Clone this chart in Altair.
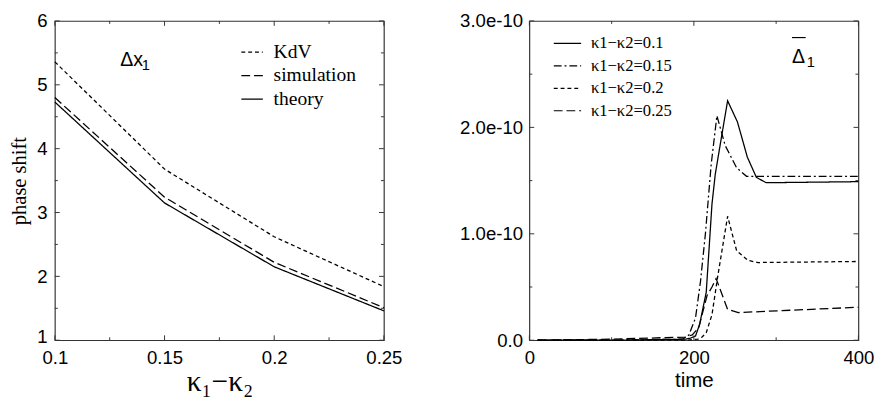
import altair as alt
import pandas as pd

# ---------------- data: left panel ----------------
kappa = [0.1, 0.15, 0.2, 0.25]
kdv = [5.36, 3.68, 2.62, 1.84]
simulation = [4.80, 3.24, 2.22, 1.51]
theory = [4.73, 3.15, 2.15, 1.46]
left_names = ["KdV", "simulation", "theory"]

left_x_major = [0.1, 0.15, 0.2, 0.25]
left_x_minor = [0.125, 0.175, 0.225]
left_y_major = [1, 2, 3, 4, 5, 6]
left_y_minor = [1.5, 2.5, 3.5, 4.5, 5.5]

# ---------------- data: right panel (values in units of 1e-10) ----------------
t_01 = [10, 100, 190, 196, 202, 207, 215, 222, 226, 234, 241, 253, 265, 276, 288, 400]
v_01 = [0, 0, 0.01, 0.02, 0.04, 0.15, 0.45, 1.28, 1.56, 1.93, 2.25, 2.05, 1.72, 1.53, 1.48, 1.49]
t_015 = [10, 100, 186, 194, 202, 208, 214, 221, 228, 238, 252, 264, 400]
v_015 = [0, 0, 0.01, 0.05, 0.21, 0.55, 1.0, 1.65, 2.11, 1.83, 1.62, 1.54, 1.54]
t_02 = [10, 100, 190, 205, 210, 215, 222, 229, 241, 252, 266, 278, 400]
v_02 = [0, 0, 0.0, 0.01, 0.03, 0.07, 0.24, 0.6, 1.165, 0.84, 0.75, 0.73, 0.74]
t_025 = [10, 100, 190, 198, 206, 216, 222, 227, 241, 254, 400]
v_025 = [0, 0.01, 0.03, 0.05, 0.12, 0.42, 0.5, 0.58, 0.29, 0.26, 0.31]
right_names = ["κ1−κ2=0.1", "κ1−κ2=0.15", "κ1−κ2=0.2", "κ1−κ2=0.25"]

right_x_major = [0, 200, 400]
right_x_minor = [100, 300]
right_y_major = [0, 1, 2, 3]
right_y_minor = [0.5, 1.5, 2.5]

W, H = 337, 327
SANS = "Liberation Sans"
SERIF = "Liberation Serif"
FRAME = "#333333"

left_df = pd.DataFrame(
    [{"x": k, "y": v, "s": left_names[0]} for k, v in zip(kappa, kdv)]
    + [{"x": k, "y": v, "s": left_names[1]} for k, v in zip(kappa, simulation)]
    + [{"x": k, "y": v, "s": left_names[2]} for k, v in zip(kappa, theory)]
)
right_rows = []
for name, ts, vs in zip(right_names, [t_01, t_015, t_02, t_025], [v_01, v_015, v_02, v_025]):
    for t, v in zip(ts, vs):
        right_rows.append({"x": t, "y": v, "s": name})
right_df = pd.DataFrame(right_rows)


def tick_layers(xenc, yenc, xmaj, xmin, ymaj, ymin):
    layers = []
    for vals, ln in [(xmaj, 5), (xmin, 3)]:
        d = pd.DataFrame({"x": vals})
        for y0, y1 in [(H, H - ln), (0, ln)]:
            layers.append(
                alt.Chart(d).mark_rule(color=FRAME, strokeWidth=1).encode(
                    x=xenc, y=alt.value(y0), y2=alt.value(y1)))
    for vals, ln in [(ymaj, 5), (ymin, 3)]:
        d = pd.DataFrame({"y": vals})
        for x0, x1 in [(0, ln), (W, W - ln)]:
            layers.append(
                alt.Chart(d).mark_rule(color=FRAME, strokeWidth=1).encode(
                    y=yenc, x=alt.value(x0), x2=alt.value(x1)))
    return layers


def txt(s, x, y, size, font=SANS):
    return alt.Chart(pd.DataFrame({"a": [0]})).mark_text(
        text=s, font=font, fontSize=size, align="left", baseline="alphabetic", color="black"
    ).encode(x=alt.value(x), y=alt.value(y))


# ---------------- left panel ----------------
lx = alt.X("x:Q", scale=alt.Scale(domain=[0.1, 0.25], nice=False, zero=False),
           axis=alt.Axis(values=left_x_major, format="~g", title="κ₁−κ₂",
                         titleFont=SERIF, titleFontSize=30, titleFontWeight="normal",
                         titlePadding=0, labelPadding=9))
ly = alt.Y("y:Q", scale=alt.Scale(domain=[1, 6], nice=False, zero=False),
           axis=alt.Axis(values=left_y_major, format="d", title="phase shift",
                         titleFont=SERIF, titleFontSize=21, titleFontWeight="normal",
                         titlePadding=7, labelPadding=8,
                         labelOffset={"condition": {"test": "datum.value == 1", "value": -4},
                                      "value": 0}))

left_lines = alt.Chart(left_df).mark_line(color="black", strokeWidth=1.3).encode(
    x=lx, y=ly,
    strokeDash=alt.StrokeDash(
        "s:N",
        scale=alt.Scale(domain=left_names, range=[[4, 3], [9, 4], [1, 0]]),
        legend=alt.Legend(title=None, orient="none", legendX=190, legendY=20,
                          symbolType="stroke", symbolSize=484, symbolStrokeColor="black",
                          symbolStrokeWidth=1.2, labelFont=SERIF, labelFontSize=20,
                          labelColor="black", rowPadding=2, labelOffset=10, padding=0)),
    order="x:Q",
)

left = alt.layer(
    left_lines,
    *tick_layers(lx, ly, left_x_major, left_x_minor, left_y_major, left_y_minor),
    txt("Δx", 67, 46, 20),
    txt("1", 89, 50, 15),
).properties(width=W, height=H)

# ---------------- right panel ----------------
rx = alt.X("x:Q", scale=alt.Scale(domain=[0, 400], nice=False),
           axis=alt.Axis(values=right_x_major, format="d", title="time",
                         titleFont=SANS, titleFontSize=21, titleFontWeight="normal",
                         titlePadding=2, labelPadding=9))
ry = alt.Y("y:Q", scale=alt.Scale(domain=[0, 3], nice=False),
           axis=alt.Axis(values=right_y_major, title=None, labelPadding=7,
                         labelExpr="datum.value == 0 ? '0.0' : format(datum.value, '.1f') + 'e-10'"))

right_lines = alt.Chart(right_df).mark_line(color="black", strokeWidth=1.3).encode(
    x=rx, y=ry,
    strokeDash=alt.StrokeDash(
        "s:N",
        scale=alt.Scale(domain=right_names, range=[[1, 0], [8, 3, 2, 3], [4, 3], [9, 4]]),
        legend=alt.Legend(title=None, orient="none", legendX=24, legendY=8,
                          symbolType="stroke", symbolSize=784, symbolStrokeColor="black",
                          symbolStrokeWidth=1.2, labelFont=SERIF, labelFontSize=17,
                          labelColor="black", rowPadding=-2, labelOffset=9, padding=0)),
    order="x:Q",
)

overline = alt.Chart(pd.DataFrame({"a": [0]})).mark_rule(color="black", strokeWidth=1.2).encode(
    x=alt.value(269), x2=alt.value(283), y=alt.value(17))

right = alt.layer(
    right_lines,
    *tick_layers(rx, ry, right_x_major, right_x_minor, right_y_major, right_y_minor),
    txt("Δ", 269, 43, 20),
    txt("1", 284, 47, 15),
    overline,
).properties(width=W, height=H)

chart = alt.hconcat(left, right, spacing=56).resolve_scale(
    strokeDash="independent", x="independent", y="independent"
).resolve_legend(strokeDash="independent").properties(
    padding={"left": 0, "top": -1.5, "right": 0, "bottom": 0}
).configure_view(stroke=FRAME, strokeWidth=1.2).configure_axis(
    labelFont=SANS, labelFontSize=19, labelColor="black", titleColor="black",
    domain=False, ticks=False, grid=False, labelFlush=False, labelOverlap=False
)

chart.save("out.html", embed_options={"renderer": "svg", "actions": False})
